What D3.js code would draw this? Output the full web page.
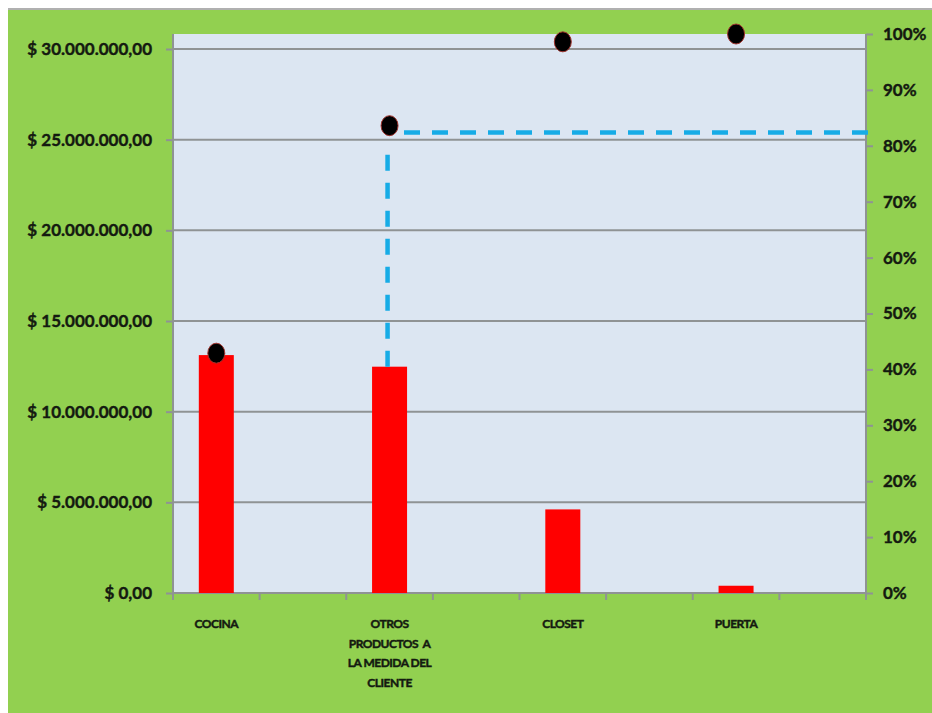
<!DOCTYPE html>
<html>
<head>
<meta charset="utf-8">
<script src="https://cdn.jsdelivr.net/npm/d3@7"></script>
<style>
  body { margin: 0; background: #fff; }
  text { font-family: Lato, "Open Sans", sans-serif; font-weight: bold; fill: #141a10; }
</style>
</head>
<body>
<div id="chart"></div>
<script>
// data
var categories = ["COCINA", "OTROS PRODUCTOS A LA MEDIDA DEL CLIENTE", "CLOSET", "PUERTA"];
var categoryLines = [["COCINA"], ["OTROS", "PRODUCTOS  A", "LA MEDIDA DEL", "CLIENTE"], ["CLOSET"], ["PUERTA"]];
var ventas = [13120000, 12480000, 4610000, 400000];
var acumulado = [0.429, 0.836, 0.986, 1.0];
var corte = 0.824;          // dashed pareto cut
var leftTicks = [0, 5000000, 10000000, 15000000, 20000000, 25000000, 30000000];
var rightTicks = [0, 0.1, 0.2, 0.3, 0.4, 0.5, 0.6, 0.7, 0.8, 0.9, 1.0];
var series = ["ventas", "vacio"];

var W = 932, H = 713;
var plot = {left: 173, right: 866, top: 34, bottom: 593};

var svg = d3.select("#chart").append("svg")
    .attr("width", W)
    .attr("height", H);

// background
svg.append("rect").attr("x", 0).attr("y", 0).attr("width", W).attr("height", H).attr("fill", "#fff");
svg.append("line").attr("x1", 8).attr("x2", W).attr("y1", 9).attr("y2", 9)
    .attr("stroke", "#b0b0b0").attr("stroke-width", 2);
svg.append("rect").attr("x", 8).attr("y", 10).attr("width", W - 8).attr("height", H - 10)
    .attr("fill", "#92d050");
svg.append("rect").attr("x", plot.left).attr("y", plot.top)
    .attr("width", plot.right - plot.left).attr("height", plot.bottom - plot.top)
    .attr("fill", "#dce6f2");

// scales
var x0 = d3.scaleBand().domain(categories).range([plot.left, plot.right]);
var x1 = d3.scaleBand().domain(series).range([0, x0.bandwidth()]);
var yL = d3.scaleLinear().domain([0, 30000000]).range([plot.bottom, 49]);
var yR = d3.scaleLinear().domain([0, 1]).range([plot.bottom, plot.top]);

var es = d3.formatLocale({decimal: ",", thousands: ".", grouping: [3], currency: ["$ ", ""]});
var money = es.format("$,.2f");
var pct = d3.format(".0%");

// gridlines
svg.append("g").selectAll("line")
  .data(leftTicks.filter(function(d) { return d > 0; }))
  .enter().append("line")
    .attr("x1", plot.left).attr("x2", plot.right)
    .attr("y1", function(d) { return yL(d); })
    .attr("y2", function(d) { return yL(d); })
    .attr("stroke", "#8f9394").attr("stroke-width", 2);

// left axis
var yAxisL = d3.axisLeft(yL).tickValues(leftTicks).tickFormat(money).tickSize(7).tickPadding(14);
var gL = svg.append("g").attr("transform", "translate(" + plot.left + ",0)").call(yAxisL);
gL.select(".domain").remove();
gL.append("line").attr("y1", plot.top).attr("y2", plot.bottom).attr("stroke", "#8f9394").attr("stroke-width", 2);
gL.selectAll(".tick line").attr("stroke", "#8f9394").attr("stroke-width", 2);
gL.selectAll(".tick text").style("font-size", "17px").attr("fill", "#141a10")
    .attr("stroke", "#141a10").attr("stroke-width", 0.4);

// right axis
var yAxisR = d3.axisRight(yR).tickValues(rightTicks).tickFormat(pct).tickSize(7).tickPadding(10);
var gR = svg.append("g").attr("transform", "translate(" + plot.right + ",0)").call(yAxisR);
gR.select(".domain").remove();
gR.append("line").attr("y1", plot.top).attr("y2", plot.bottom + 7).attr("stroke", "#8f9394").attr("stroke-width", 2);
gR.selectAll(".tick line").attr("stroke", "#8f9394").attr("stroke-width", 2);
gR.selectAll(".tick text").style("font-size", "17px").attr("fill", "#141a10")
    .attr("stroke", "#141a10").attr("stroke-width", 0.4);

// bottom axis
var tickXs = [];
categories.forEach(function(c) {
  series.forEach(function(s) { tickXs.push(x0(c) + x1(s)); });
});
tickXs.push(plot.right);
svg.append("line").attr("x1", plot.left).attr("x2", plot.right)
    .attr("y1", plot.bottom).attr("y2", plot.bottom)
    .attr("stroke", "#8f9394").attr("stroke-width", 2);
svg.append("g").selectAll("line").data(tickXs).enter().append("line")
    .attr("x1", function(d) { return d; }).attr("x2", function(d) { return d; })
    .attr("y1", plot.bottom).attr("y2", plot.bottom + 7)
    .attr("stroke", "#8f9394").attr("stroke-width", 2);

// category labels
var barW = 35;
function cx(i) { return x0(categories[i]) + x1("ventas") + x1.bandwidth() / 2; }

svg.append("g").selectAll("text")
  .data(categoryLines)
  .enter().append("text")
    .attr("x", function(d, i) { return cx(i); })
    .attr("y", 628)
    .attr("text-anchor", "middle")
    .style("font-size", "12px")
    .style("letter-spacing", "-0.5px")
    .style("white-space", "pre")
    .attr("stroke", "#141a10").attr("stroke-width", 0.45)
    .each(function(lines, i) {
      var t = d3.select(this);
      lines.forEach(function(l, k) {
        t.append("tspan").attr("x", cx(i)).attr("dy", k === 0 ? 0 : 19.5).text(l);
      });
    });

// bars
svg.append("g").selectAll("rect")
  .data(ventas)
  .enter().append("rect")
    .attr("x", function(d, i) { return cx(i) - barW / 2; })
    .attr("y", function(d) { return yL(d); })
    .attr("width", barW)
    .attr("height", function(d) { return plot.bottom - yL(d); })
    .attr("fill", "#ff0000");

// dashed pareto guide
var k = 1;
svg.append("line")
    .attr("x1", cx(k) - 2).attr("x2", cx(k) - 2)
    .attr("y1", yL(ventas[k]))
    .attr("y2", yR(corte) + 18)
    .attr("stroke", "#17ace6").attr("stroke-width", 4.5)
    .attr("stroke-dasharray", "16,12");
svg.append("line")
    .attr("x1", plot.right + 2).attr("x2", cx(k) + 13)
    .attr("y1", yR(corte)).attr("y2", yR(corte))
    .attr("stroke", "#17ace6").attr("stroke-width", 4.5)
    .attr("stroke-dasharray", "16,12");

// cumulative dots
svg.append("g").selectAll("ellipse")
  .data(acumulado)
  .enter().append("ellipse")
    .attr("cx", function(d, i) { return cx(i); })
    .attr("cy", function(d) { return yR(d); })
    .attr("rx", 8.5).attr("ry", 10)
    .attr("fill", "#000")
    .attr("stroke", "#a0342e").attr("stroke-width", 1);
</script>
</body>
</html>
